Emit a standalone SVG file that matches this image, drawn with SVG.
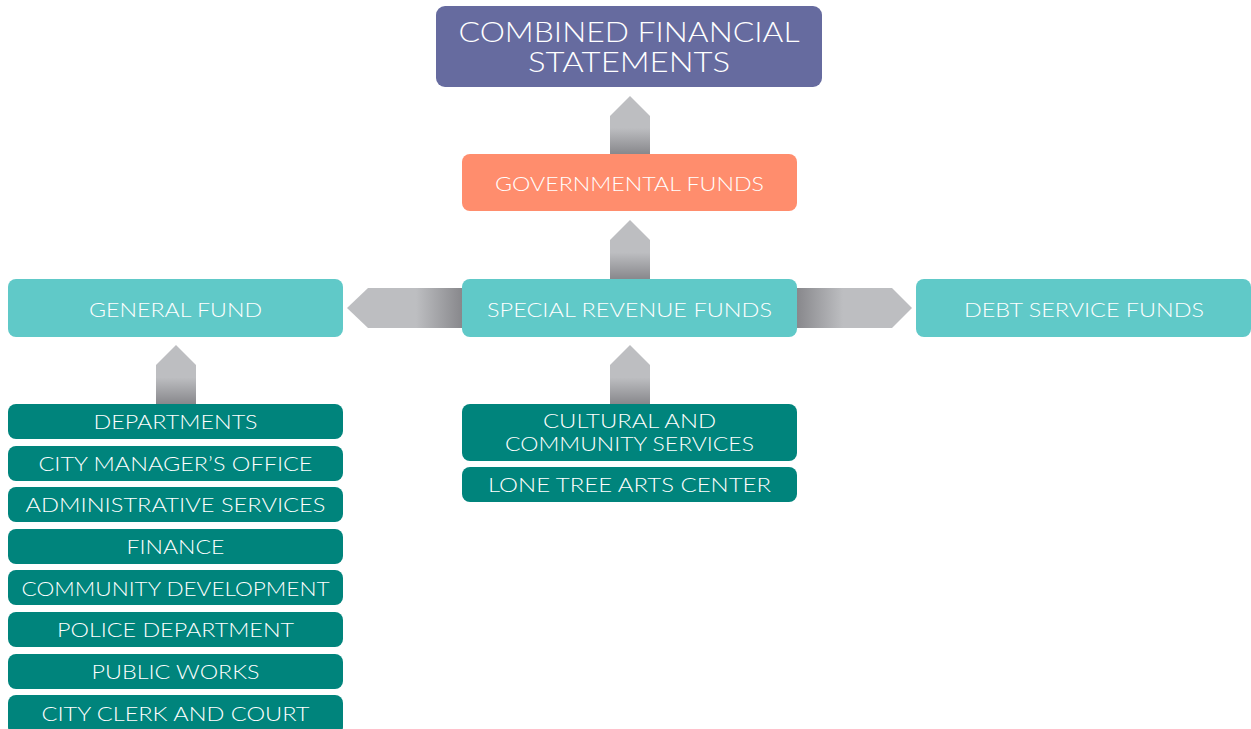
<svg xmlns="http://www.w3.org/2000/svg" width="1251" height="729" viewBox="0 0 1251 729">
  <defs>
    <style>
      .box-top { fill: #666b9f; }
      .box-gov { fill: #ff8d6d; }
      .box-fund { fill: #60c9c8; }
      .box-dept { fill: #00847c; }
      .label { fill: #ffffff; font-family: Lato, "Open Sans", "Liberation Sans", sans-serif; font-weight: 300; font-size: 20px; text-anchor: middle; }
      .title { font-size: 27px; }
      .tight { font-size: 19px; }
      .arrow-up { fill: url(#gradUp); }
    </style>
    <linearGradient id="gradUp" x1="0" y1="0" x2="0" y2="1">
      <stop offset="0" stop-color="#bdbec1"/>
      <stop offset="0.55" stop-color="#bdbec1"/>
      <stop offset="1" stop-color="#88888c"/>
    </linearGradient>
    <linearGradient id="gradLeft" gradientUnits="userSpaceOnUse" x1="347" y1="0" x2="462" y2="0">
      <stop offset="0" stop-color="#bdbec1"/>
      <stop offset="0.6" stop-color="#bdbec1"/>
      <stop offset="1" stop-color="#88888c"/>
    </linearGradient>
    <linearGradient id="gradRight" gradientUnits="userSpaceOnUse" x1="912" y1="0" x2="797" y2="0">
      <stop offset="0" stop-color="#bdbec1"/>
      <stop offset="0.6" stop-color="#bdbec1"/>
      <stop offset="1" stop-color="#88888c"/>
    </linearGradient>
  </defs>

  <!-- block arrows between levels -->
  <g id="connectors">
    <polygon class="arrow-up" points="610,154 610,116 630,96 650,116 650,154"/>
    <polygon class="arrow-up" points="610,279 610,240 630,220 650,240 650,279"/>
    <polygon class="arrow-up" points="156,404 156,365 176,345 196,365 196,404"/>
    <polygon class="arrow-up" points="610,404 610,365 630,345 650,365 650,404"/>
    <polygon fill="url(#gradLeft)" points="462,288 368,288 347,308 368,328 462,328"/>
    <polygon fill="url(#gradRight)" points="797,288 892,288 912,308 892,328 797,328"/>
  </g>

  <g id="combined">
    <rect class="box-top" x="436" y="6" width="386" height="81" rx="9"/>
    <text class="label title" x="629" y="42" textLength="341" lengthAdjust="spacingAndGlyphs">COMBINED FINANCIAL</text>
    <text class="label title" x="629" y="72" textLength="202" lengthAdjust="spacingAndGlyphs">STATEMENTS</text>
  </g>

  <g id="governmental">
    <rect class="box-gov" x="462" y="154" width="335" height="57" rx="8"/>
    <text class="label" x="629.5" y="191" textLength="269" lengthAdjust="spacingAndGlyphs">GOVERNMENTAL FUNDS</text>
  </g>

  <g id="general-fund">
    <rect class="box-fund" x="8" y="279" width="335" height="58" rx="8"/>
    <text class="label" x="175.5" y="317" textLength="173" lengthAdjust="spacingAndGlyphs">GENERAL FUND</text>
  </g>

  <g id="special-revenue">
    <rect class="box-fund" x="462" y="279" width="335" height="58" rx="8"/>
    <text class="label" x="629.5" y="317" textLength="285" lengthAdjust="spacingAndGlyphs">SPECIAL REVENUE FUNDS</text>
  </g>

  <g id="debt-service">
    <rect class="box-fund" x="916" y="279" width="335" height="58" rx="8"/>
    <text class="label" x="1084" y="317" textLength="240" lengthAdjust="spacingAndGlyphs">DEBT SERVICE FUNDS</text>
  </g>

  <g id="departments">
    <rect class="box-dept" x="8" y="404" width="335" height="35" rx="8"/>
    <text class="label" x="175.5" y="429" textLength="164" lengthAdjust="spacingAndGlyphs">DEPARTMENTS</text>
  </g>
  <g id="city-manager">
    <rect class="box-dept" x="8" y="446" width="335" height="35" rx="8"/>
    <text class="label" x="175.5" y="471" textLength="274" lengthAdjust="spacingAndGlyphs">CITY MANAGER’S OFFICE</text>
  </g>
  <g id="administrative">
    <rect class="box-dept" x="8" y="487" width="335" height="35" rx="8"/>
    <text class="label" x="175.5" y="512" textLength="300" lengthAdjust="spacingAndGlyphs">ADMINISTRATIVE SERVICES</text>
  </g>
  <g id="finance">
    <rect class="box-dept" x="8" y="529" width="335" height="35" rx="8"/>
    <text class="label" x="175.5" y="554" textLength="98" lengthAdjust="spacingAndGlyphs">FINANCE</text>
  </g>
  <g id="community-development">
    <rect class="box-dept" x="8" y="570" width="335" height="35" rx="8"/>
    <text class="label" x="175.5" y="596" textLength="308" lengthAdjust="spacingAndGlyphs">COMMUNITY DEVELOPMENT</text>
  </g>
  <g id="police">
    <rect class="box-dept" x="8" y="612" width="335" height="35" rx="8"/>
    <text class="label" x="175.5" y="637" textLength="237" lengthAdjust="spacingAndGlyphs">POLICE DEPARTMENT</text>
  </g>
  <g id="public-works">
    <rect class="box-dept" x="8" y="654" width="335" height="35" rx="8"/>
    <text class="label" x="175.5" y="679" textLength="168" lengthAdjust="spacingAndGlyphs">PUBLIC WORKS</text>
  </g>
  <g id="city-clerk">
    <rect class="box-dept" x="8" y="695" width="335" height="40" rx="8"/>
    <text class="label" x="175.5" y="721" textLength="268" lengthAdjust="spacingAndGlyphs">CITY CLERK AND COURT</text>
  </g>

  <g id="cultural">
    <rect class="box-dept" x="462" y="404" width="335" height="57" rx="8"/>
    <text class="label tight" x="629.5" y="428" textLength="173" lengthAdjust="spacingAndGlyphs">CULTURAL AND</text>
    <text class="label tight" x="629.5" y="451" textLength="249" lengthAdjust="spacingAndGlyphs">COMMUNITY SERVICES</text>
  </g>
  <g id="arts-center">
    <rect class="box-dept" x="462" y="467" width="335" height="35" rx="8"/>
    <text class="label" x="629.5" y="492" textLength="283" lengthAdjust="spacingAndGlyphs">LONE TREE ARTS CENTER</text>
  </g>
</svg>
